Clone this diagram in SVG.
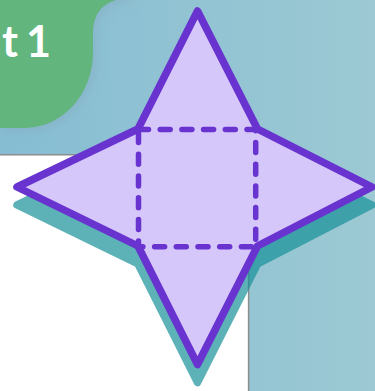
<svg xmlns="http://www.w3.org/2000/svg" width="375" height="391" viewBox="0 0 375 391">
<defs>
<linearGradient id="bg" x1="0" y1="0" x2="1" y2="0"><stop offset="0" stop-color="#86bdd3"/><stop offset="1" stop-color="#9cc9d3"/></linearGradient>
<filter id="soft" x="-20%" y="-20%" width="140%" height="140%"><feDropShadow dx="2" dy="2" stdDeviation="6" flood-color="#7f8ea8" flood-opacity=".28"/></filter>
<path id="star" d="M197.5 11 257.5 129 372 187 257.5 246 197.5 364.5 138 246 17 187 138 129Z"/>
</defs>
<style>
.edge{fill:#d6c7fb;stroke:#6933cf;stroke-width:7.5;stroke-linejoin:round}
.fold{fill:none;stroke:#6933cf;stroke-width:5.5;stroke-linecap:round;stroke-dasharray:10 11.7}
.drop{fill:#159198;stroke:#159198;stroke-width:7.5;stroke-linejoin:round}
text{font-family:"Lato","Noto Sans",sans-serif;font-weight:700;font-size:43px;fill:#fff}
</style>
<rect width="375" height="391" fill="#fff"/>
<path d="M0 0H375V391H249V155H0Z" fill="url(#bg)"/>
<path d="M0 154.7H248.6V391" fill="none" stroke="#8c8c8c" stroke-width="1.5"/>
<path id="tab" d="M0 -20H130V0H116C102 4 94 14 93 30V52C93 95 62 128 24 128H0Z" fill="#62b57d" filter="url(#soft)"/>
<text x="2" y="57">t</text><text x="26" y="57">1</text>
<g id="shadow" opacity=".69"><use href="#star" class="drop" y="18"/></g>
<g id="net"><use href="#star" class="edge"/></g>
<g id="folds"><rect class="fold" x="138.5" y="129.5" width="117.2" height="117.2"/></g>
</svg>
